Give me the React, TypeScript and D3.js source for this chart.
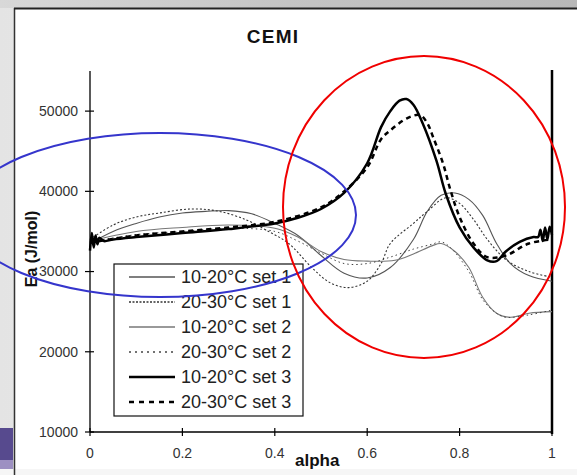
import React from "react";
import * as d3 from "d3";

// ---- data ----
const xTicks = [0, 0.2, 0.4, 0.6, 0.8, 1];
const yTicks = [10000, 20000, 30000, 40000, 50000];
const legendLabels = [
  "10-20°C set 1",
  "20-30°C set 1",
  "10-20°C set 2",
  "20-30°C set 2",
  "10-20°C set 3",
  "20-30°C set 3",
];

const s1a_alpha = [0, 0.05, 0.1, 0.15, 0.2, 0.25, 0.3, 0.35, 0.4, 0.45, 0.5, 0.55, 0.6, 0.65, 0.7, 0.73, 0.76, 0.79, 0.82, 0.85, 0.88, 0.91, 0.95, 1];
const s1a_Ea = [33500, 35000, 36000, 36800, 37300, 37500, 37600, 37200, 36000, 34500, 32000, 29800, 29200, 30500, 34000, 37500, 39500, 39800, 39000, 37000, 33500, 31000, 29500, 28800];

const s1b_alpha = [0, 0.05, 0.1, 0.15, 0.22, 0.28, 0.34, 0.38, 0.43, 0.48, 0.52, 0.56, 0.6, 0.63, 0.65, 0.7, 0.73, 0.77, 0.8, 0.83, 0.86, 0.9, 0.95, 1];
const s1b_Ea = [34000, 35800, 36800, 37300, 37800, 37500, 36400, 35200, 33500, 30500, 28600, 28000, 28800, 31000, 33500, 36000, 37500, 39200, 38500, 36500, 34000, 31500, 30000, 29300];

const s2a_alpha = [0, 0.1, 0.2, 0.3, 0.4, 0.45, 0.5, 0.55, 0.6, 0.66, 0.7, 0.74, 0.76, 0.79, 0.82, 0.85, 0.88, 0.91, 0.95, 1];
const s2a_Ea = [33800, 35000, 35500, 35800, 35400, 34300, 32500, 31500, 31300, 31400, 32200, 33200, 33500, 32500, 30500, 26800, 24800, 24300, 24800, 25000];

const s2b_alpha = [0, 0.1, 0.2, 0.3, 0.4, 0.45, 0.5, 0.55, 0.6, 0.65, 0.7, 0.74, 0.76, 0.78, 0.82, 0.85, 0.88, 0.9, 0.95, 1];
const s2b_Ea = [33700, 34600, 35000, 35400, 35000, 33800, 32300, 31000, 31000, 31800, 32800, 33400, 33700, 33000, 30000, 26500, 24800, 24300, 24600, 25200];

const s3a_alpha = [0, 0.004, 0.008, 0.012, 0.016, 0.02, 0.03, 0.05, 0.1, 0.2, 0.3, 0.4, 0.45, 0.5, 0.55, 0.6, 0.63, 0.65, 0.67, 0.685, 0.7, 0.72, 0.75, 0.77, 0.8, 0.83, 0.86, 0.88, 0.9, 0.93, 0.96, 0.97, 0.975, 0.98, 0.985, 0.99, 0.995, 1];
const s3a_Ea = [32600, 34800, 33000, 34500, 33400, 34200, 33800, 34000, 34300, 34800, 35300, 36000, 36700, 37800, 39800, 43500, 48000, 50000, 51300, 51500, 50800, 48500, 43800, 39700, 35500, 33000, 31400, 31300, 32500, 33700, 34300, 34300, 35200, 33800, 35500, 34000, 35600, 34600];

const s3b_alpha = [0, 0.1, 0.2, 0.3, 0.4, 0.5, 0.55, 0.6, 0.63, 0.65, 0.686, 0.714, 0.73, 0.743, 0.764, 0.78, 0.8, 0.83, 0.86, 0.9, 0.95, 1];
const s3b_Ea = [33600, 34500, 35000, 35500, 36200, 38000, 40000, 43000, 46500, 47600, 49100, 49500, 48500, 46700, 43500, 40200, 36800, 33500, 31800, 32000, 33500, 34000];

const seriesAlpha = [s1a_alpha, s1b_alpha, s2a_alpha, s2b_alpha, s3a_alpha, s3b_alpha];
const seriesEa = [s1a_Ea, s1b_Ea, s2a_Ea, s2b_Ea, s3a_Ea, s3b_Ea];

// ---- styles ----
const styles = [
  { stroke: "#555", width: 1.1, dash: "" },
  { stroke: "#333", width: 1.1, dash: "2,2" },
  { stroke: "#777", width: 1.1, dash: "" },
  { stroke: "#444", width: 1, dash: "1.5,3" },
  { stroke: "#000", width: 2.5, dash: "" },
  { stroke: "#000", width: 2.5, dash: "5,4" },
];

export default function App() {
  const W = 577;
  const H = 475;
  const x = d3.scaleLinear().domain([0, 1]).range([90, 552]);
  const y = d3.scaleLinear().domain([10000, 55000]).range([432, 71]);
  const line = d3
    .line<[number, number]>()
    .x((d) => x(d[0]))
    .y((d) => y(d[1]))
    .curve(d3.curveCatmullRom.alpha(0.5));

  const font = "'Liberation Sans', Arial, sans-serif";
  const legX = 114, legY = 264, legW = 189, legH = 152;

  return (
    <svg width={W} height={H} style={{ position: "absolute", left: 0, top: 0 }} fontFamily={font}>
      <defs>
        <linearGradient id="topband" x1="0" x2="1" y1="0" y2="0">
          <stop offset="0" stopColor="#d8d8d8" />
          <stop offset="0.5" stopColor="#c4c4c4" />
          <stop offset="1" stopColor="#b8b8b8" />
        </linearGradient>
        <linearGradient id="leftband" x1="0" x2="1" y1="0" y2="0">
          <stop offset="0" stopColor="#e4e4e4" />
          <stop offset="1" stopColor="#f4f4f4" />
        </linearGradient>
      </defs>
      {/* slide background */}
      <rect x={0} y={0} width={W} height={H} fill="url(#leftband)" />
      <rect x={0} y={0} width={W} height={8} fill="url(#topband)" />
      <rect x={0} y={428} width={13} height={32} fill="#574a8e" />
      <rect x={0} y={460} width={13} height={15} fill="#9d90c2" />
      {/* chart box */}
      <rect x={15} y={9} width={W} height={460} fill="#fff" />
      <rect x={0} y={469} width={W} height={6} fill="#f6f6f6" />
      <line x1={14.5} x2={14.5} y1={8} y2={475} stroke="#333" strokeWidth={1.5} />
      <line x1={14} x2={W} y1={8.5} y2={8.5} stroke="#222" strokeWidth={1.8} />

      {/* title */}
      <text x={273} y={43} textAnchor="middle" fontSize={19} fontWeight="bold" letterSpacing={1.2} fill="#111">
        CEMI
      </text>

      {/* axes */}
      <line x1={90} x2={90} y1={71} y2={432} stroke="#000" strokeWidth={1.3} />
      <line x1={90} x2={552} y1={432} y2={432} stroke="#000" strokeWidth={1.3} />
      <line x1={552} x2={552} y1={70} y2={434} stroke="#000" strokeWidth={2.5} />
      {yTicks.map((t) => (
        <g key={"y" + t}>
          <line x1={85} x2={94} y1={y(t)} y2={y(t)} stroke="#000" strokeWidth={1.2} />
          <text x={78} y={y(t)} dy="0.35em" textAnchor="end" fontSize={14} fill="#333">
            {t}
          </text>
        </g>
      ))}
      {xTicks.map((t) => (
        <g key={"x" + t}>
          <line x1={x(t)} x2={x(t)} y1={428} y2={436} stroke="#000" strokeWidth={1.2} />
          <text x={x(t)} y={458} textAnchor="middle" fontSize={14} fill="#333">
            {t}
          </text>
        </g>
      ))}
      <text x={295} y={466} fontSize={17} fontWeight="bold" fill="#111">
        alpha
      </text>
      <text
        transform="translate(37,249) rotate(-90)"
        textAnchor="middle"
        fontSize={16}
        fontWeight="bold"
        fill="#111"
      >
        Ea (J/mol)
      </text>

      {/* series */}
      {seriesAlpha.map((al, i) => {
        const pts: [number, number][] = al.map((a, j) => [a, seriesEa[i][j]]);
        return (
          <path
            key={"s" + i}
            d={line(pts) || ""}
            fill="none"
            stroke={styles[i].stroke}
            strokeWidth={styles[i].width}
            strokeDasharray={styles[i].dash}
          />
        );
      })}

      {/* legend */}
      <rect x={legX} y={legY} width={legW} height={legH} fill="#fff" stroke="#111" strokeWidth={1.2} />
      {legendLabels.map((lab, i) => {
        const cy = legY + 13 + i * 25;
        return (
          <g key={"l" + i}>
            <line
              x1={129}
              x2={175}
              y1={cy}
              y2={cy}
              stroke={styles[i].stroke}
              strokeWidth={i >= 4 ? 2.5 : 1.3}
              strokeDasharray={i === 5 ? "5,5" : i === 3 ? "2,4" : i === 1 ? "2,1.5" : ""}
            />
            <text x={181} y={cy} dy="0.35em" fontSize={18} fill="#222">
              {lab}
            </text>
          </g>
        );
      })}

      {/* annotation ellipses */}
      <ellipse cx={160} cy={215} rx={196} ry={82} fill="none" stroke="#3535cc" strokeWidth={2} />
      <ellipse cx={424} cy={207} rx={141} ry={151} fill="none" stroke="#f00000" strokeWidth={2} />
    </svg>
  );
}
